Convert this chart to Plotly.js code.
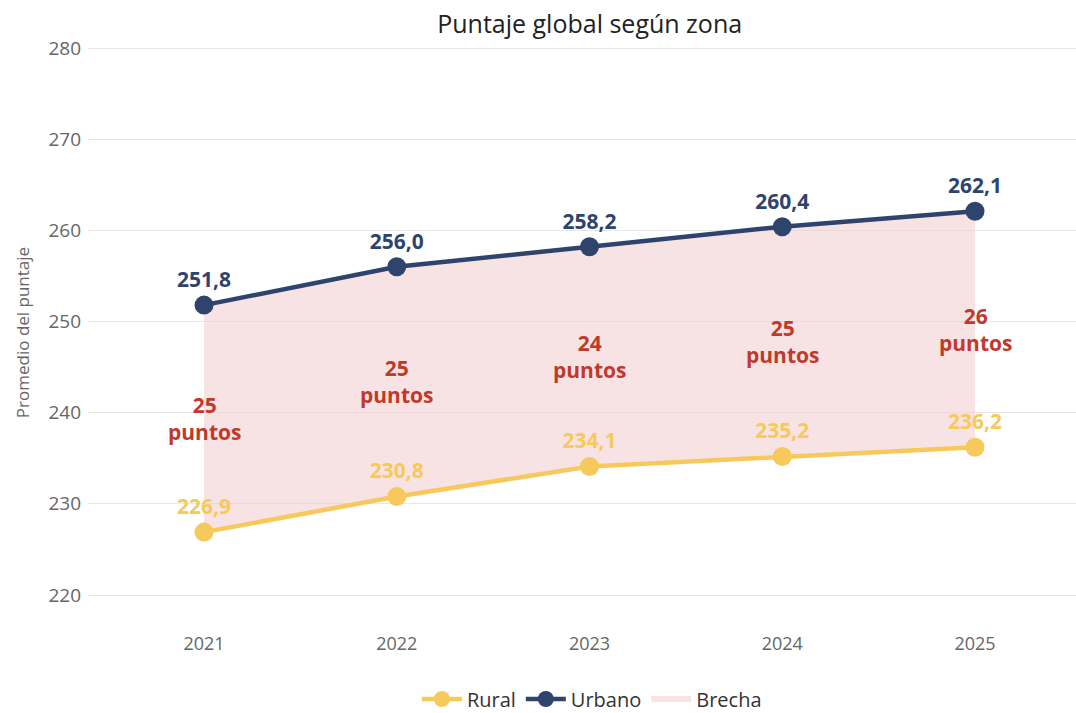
<!DOCTYPE html>
<html>
<head>
<meta charset="utf-8">
<script src="https://cdn.plot.ly/plotly-3.0.1.min.js"></script>
<style>html,body{margin:0;padding:0;background:#fff;}#chart{width:1076px;height:713px;}</style>
</head>
<body>
<div id="chart"></div>
<script>
const years = [2021, 2022, 2023, 2024, 2025];
const rural = [226.9, 230.8, 234.1, 235.2, 236.2];
const urbano = [251.8, 256.0, 258.2, 260.4, 262.1];
const yTicks = [220, 230, 240, 250, 260, 270, 280];

const FONT = "Open Sans, sans-serif";
const fmt = v => v.toFixed(1).replace('.', ',');
const gap = urbano.map((u, i) => Math.round(u - rural[i]));
const mid = urbano.map((u, i) => (u + rural[i]) / 2);

const brecha = {
  x: years.concat(years.slice().reverse()),
  y: urbano.concat(rural.slice().reverse()),
  type: 'scatter', mode: 'none', fill: 'toself',
  fillcolor: 'rgba(240,200,200,0.5)',
  name: 'Brecha', hoverinfo: 'skip', legendrank: 3
};
const tRural = {
  x: years, y: rural, type: 'scatter', mode: 'lines+markers+text',
  name: 'Rural', line: {color: '#f7c95c', width: 4.5},
  marker: {color: '#f7c95c', size: 19},
  text: rural.map(fmt), textposition: 'top center',
  textfont: {family: FONT, size: 21, color: '#f7c95c', weight: 700},
  legendrank: 1
};
const tUrb = {
  x: years, y: urbano, type: 'scatter', mode: 'lines+markers+text',
  name: 'Urbano', line: {color: '#2e446d', width: 4.5},
  marker: {color: '#2e446d', size: 19},
  text: urbano.map(fmt), textposition: 'top center',
  textfont: {family: FONT, size: 21, color: '#2e446d', weight: 700},
  legendrank: 2
};

const gapFont = {family: FONT, size: 21, color: '#c0392b', weight: 700};
const annotations = years.map((yr, i) => ({
  x: yr, y: mid[i], xref: 'x', yref: 'y', text: gap[i] + '<br>puntos',
  showarrow: false, font: gapFont, align: 'center', borderpad: 0
}));

const layout = {
  width: 1076, height: 713,
  margin: {l: 88, r: 0, t: 40, b: 88},
  paper_bgcolor: '#fff', plot_bgcolor: '#fff',
  font: {family: FONT, color: '#666'},
  title: {text: 'Puntaje global según zona', x: 0.548, xanchor: 'center',
          yref: 'container', y: 1 - 24 / 713, yanchor: 'middle',
          font: {family: FONT, size: 25, color: '#222'}},
  xaxis: {range: [2020.398, 2025.524], tickvals: years, ticktext: years.map(String),
          showgrid: false, zeroline: false, showline: false,
          tickfont: {family: FONT, size: 18, color: '#666'}, ticklabelstandoff: 6},
  yaxis: {range: [216.71, 280.88], tickvals: yTicks, ticktext: yTicks.map(String),
          showgrid: true, gridcolor: '#e8e8e8', gridwidth: 1, zeroline: false, showline: false,
          tickfont: {family: FONT, size: 19, color: '#666'}, ticklabelstandoff: 6,
          title: {text: 'Promedio del puntaje', font: {family: FONT, size: 17, color: '#666'}, standoff: 14}},
  legend: {orientation: 'h', x: 0.51, xanchor: 'center', yref: 'container', y: 1 - 699 / 713, yanchor: 'middle',
           font: {family: FONT, size: 20, color: '#333'}, traceorder: 'normal', itemwidth: 40},
  annotations: annotations,
  showlegend: true
};

Plotly.newPlot('chart', [brecha, tRural, tUrb], layout, {displayModeBar: false, staticPlot: true});
</script>
</body>
</html>
